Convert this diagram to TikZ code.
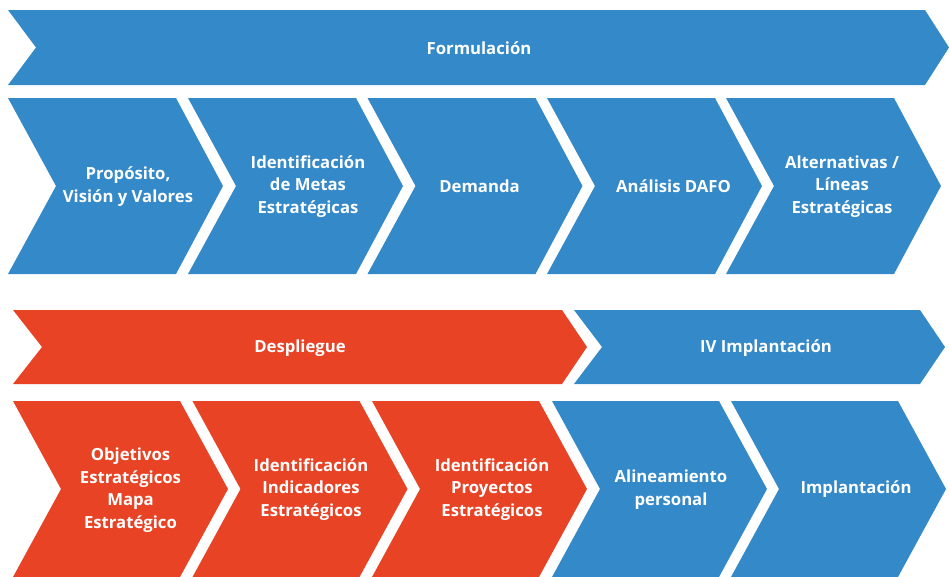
\documentclass[tikz,border=0pt]{standalone}
\usepackage{fontspec}
\setmainfont{Open Sans}
\definecolor{cblue}{RGB}{52,137,201}
\definecolor{cred}{RGB}{233,67,38}
\newcommand{\chevshape}[7]{%
  \fill[#1] (#2,#3) -- ({#2+#5},#3) -- ({#2+#6},{(#3+#4)/2}) -- ({#2+#5},#4) -- (#2,#4) -- ({#2+#7},{(#3+#4)/2}) -- cycle;}
\tikzset{lbl/.style={text=white, align=center, font=\bfseries\fontsize{16.7}{22.5}\selectfont, inner sep=0pt}}
\begin{document}
\begin{tikzpicture}[x=1pt,y=-1pt]
\useasboundingbox (0,0) rectangle (949,576);
% top banner
\chevshape{cblue}{8}{10}{85}{917}{941}{28}
% row 2
\chevshape{cblue}{8}{98}{274}{168}{215}{48}
\chevshape{cblue}{188}{98}{274}{168}{215}{48}
\chevshape{cblue}{367.5}{98}{274}{168}{215}{48}
\chevshape{cblue}{547}{98}{274}{168}{215}{48}
\chevshape{cblue}{726}{98}{274}{168}{215}{48}
% row 3 banners
\chevshape{cred}{13}{310}{384}{549}{574}{29}
\chevshape{cblue}{574}{310}{384}{346}{371}{28}
% row 4
\chevshape{cred}{13}{401}{577}{167}{215}{48}
\chevshape{cred}{192.5}{401}{577}{167}{215}{48}
\chevshape{cred}{372}{401}{577}{167}{215}{48}
\chevshape{cblue}{552}{401}{577}{167}{215}{48}
\chevshape{cblue}{731}{401}{577}{167}{215}{48}
% labels
\node[lbl] (form) at (479,48.5) {Formulación};
\node[lbl] (a1) at (128,186.5) {Propósito,\\Visión y Valores};
\node[lbl] (a2) at (308,186.5) {Identificación\\de Metas\\Estratégicas};
\node[lbl] (a3) at (479.5,186.5) {Demanda};
\node[lbl] (a4) at (673.5,186.5) {Análisis DAFO};
\node[lbl] (a5) at (842,186.5) {Alternativas /\\Líneas\\Estratégicas};
\node[lbl] (desp) at (300,348.5) {Despliegue};
\node[lbl] (impl) at (766,348.5) {IV Implantación};
\node[lbl] (b1) at (130.5,490) {Objetivos\\Estratégicos\\Mapa\\Estratégico};
\node[lbl] (b2) at (311,489.5) {Identificación\\Indicadores\\Estratégicos};
\node[lbl] (b3) at (492,489.5) {Identificación\\Proyectos\\Estratégicos};
\node[lbl] (b4) at (671,489.5) {Alineamiento\\personal};
\node[lbl] (b5) at (856,489.5) {Implantación};
\end{tikzpicture}
\end{document}
